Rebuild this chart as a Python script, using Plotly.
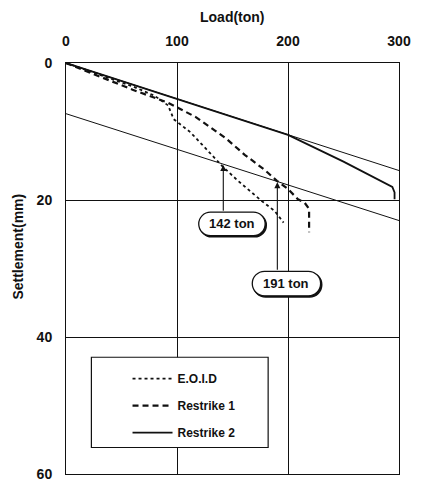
import plotly.graph_objects as go

# ---- data ----
eoid_load = [0, 20, 40, 60, 80, 92, 97, 112, 126, 141, 155, 176, 188, 196]
eoid_settle = [0, 1.1, 2.2, 3.4, 4.8, 6.2, 8.2, 10.1, 12.5, 15.1, 17.2, 20.1, 21.6, 23.3]

r1_load = [0, 30, 60, 92, 117, 144, 161, 179, 190, 200, 209, 215, 219, 219]
r1_settle = [0, 1.9, 3.9, 5.8, 7.9, 11.0, 13.4, 15.6, 17.2, 18.4, 19.9, 20.4, 21.3, 24.7]

r2_load = [0, 50, 100, 150, 200, 250, 294, 296, 296]
r2_settle = [0, 2.6, 5.3, 7.9, 10.5, 14.4, 18.1, 18.9, 19.9]

tangent_load = [0, 300]
upper_tangent = [0, 15.7]
lower_tangent = [7.4, 23.0]

arrow_loads = [141.7, 190.4]
arrow_tips = [14.9, 17.4]
arrow_tails = [21.8, 30.4]
box_labels = ["142 ton", "191 ton"]
box_centers = [(149.5, 23.5), (198.6, 32.2)]
box_sizes = [(68, 24), (70, 25)]

x_ticks = [0, 100, 200, 300]
y_ticks = [0, 20, 40, 60]

# ---- layout geometry ----
W, H = 422, 493
ML, MR, MT, MB = 66, 15, 63, 11
PW = W - ML - MR
PH = H - MT - MB
KX = 300.0 / PW  # load per px
KY = 60.0 / PH   # mm per px


def px_to_paper(px, py):
    return (px - ML) / PW, (H - MB - py) / PH


FONT = "Liberation Sans"

fig = go.Figure()

fig.add_trace(go.Scatter(x=tangent_load, y=upper_tangent, mode="lines",
                         line=dict(color="#111", width=1), showlegend=False, hoverinfo="skip"))
fig.add_trace(go.Scatter(x=tangent_load, y=lower_tangent, mode="lines",
                         line=dict(color="#111", width=1), showlegend=False, hoverinfo="skip"))

fig.add_trace(go.Scatter(x=eoid_load, y=eoid_settle, mode="lines", name="E.O.I.D",
                         legendgroup="a",
                         line=dict(color="#111", width=1.8, dash="dot")))
fig.add_trace(go.Scatter(x=r1_load, y=r1_settle, mode="lines", name="Restrike 1",
                         legendgroup="b",
                         line=dict(color="#111", width=2.2, dash="6px,4px")))
fig.add_trace(go.Scatter(x=r2_load, y=r2_settle, mode="lines", name="Restrike 2",
                         legendgroup="c",
                         line=dict(color="#111", width=1.8)))


def pill(cx, cy, wpx, hpx, ox=0.0, oy=0.0):
    r = hpx / 2.0
    k = 0.5523 * r
    half = wpx / 2.0 - r

    def P(dx, dy):
        return f"{cx + (dx + ox) * KX:.4f},{cy + (dy + oy) * KY:.4f}"

    d = f"M {P(-half, -r)} L {P(half, -r)} "
    d += f"C {P(half + k, -r)} {P(half + r, -k)} {P(half + r, 0)} "
    d += f"C {P(half + r, k)} {P(half + k, r)} {P(half, r)} "
    d += f"L {P(-half, r)} "
    d += f"C {P(-half - k, r)} {P(-half - r, k)} {P(-half - r, 0)} "
    d += f"C {P(-half - r, -k)} {P(-half - k, -r)} {P(-half, -r)} Z"
    return d


shapes = []
lx0, ly0 = px_to_paper(92, 455)
lx1, ly1 = px_to_paper(273, 363)
shapes.append(dict(type="rect", xref="paper", yref="paper",
                   x0=lx0, x1=lx1, y0=ly0, y1=ly1,
                   line=dict(color="#111", width=1.2), fillcolor="white", layer="above"))
for (cx, cy), (bw, bh) in zip(box_centers, box_sizes):
    shapes.append(dict(type="path", xref="x", yref="y", path=pill(cx, cy, bw, bh, 1.2, 1.2),
                       line=dict(color="#111", width=1.4), fillcolor="#111", layer="above"))
    shapes.append(dict(type="path", xref="x", yref="y", path=pill(cx, cy, bw, bh),
                       line=dict(color="#111", width=1.3), fillcolor="white", layer="above"))

annotations = []
for xl, tip, tail in zip(arrow_loads, arrow_tips, arrow_tails):
    annotations.append(dict(x=xl, y=tip, ax=xl, ay=tail, xref="x", yref="y",
                            axref="x", ayref="y", text="", showarrow=True,
                            arrowhead=2, arrowsize=1.1, arrowwidth=1.1, arrowcolor="#111"))
for lab, (cx, cy) in zip(box_labels, box_centers):
    annotations.append(dict(x=cx, y=cy, xref="x", yref="y", text=lab, showarrow=False,
                            font=dict(family=FONT, size=13, color="#111", weight="bold")))

ytx, yty = px_to_paper(17, 250)
annotations.append(dict(x=ytx, y=yty, xref="paper", yref="paper",
                        text="Settlement(mm)", textangle=-90, showarrow=False,
                        xanchor="center", yanchor="middle",
                        font=dict(family=FONT, size=14, color="#111", weight="bold")))
xtx, xty = px_to_paper(ML + PW / 2, 16)
annotations.append(dict(x=xtx, y=xty, xref="paper", yref="paper",
                        text="Load(ton)", showarrow=False, xanchor="center", yanchor="middle",
                        font=dict(family=FONT, size=14, color="#111", weight="bold")))

legx, legy = px_to_paper(129, 370)
fig.update_layout(
    width=W, height=H,
    margin=dict(l=ML, r=MR, t=MT, b=MB),
    paper_bgcolor="white", plot_bgcolor="white",
    shapes=shapes, annotations=annotations,
    legend=dict(x=legx, y=legy, xanchor="left", yanchor="top",
                bgcolor="rgba(0,0,0,0)", borderwidth=0,
                font=dict(family=FONT, size=12, color="#111", weight="bold"),
                tracegroupgap=8, itemwidth=40),
)
fig.update_xaxes(range=[0, 300], side="top", tickvals=x_ticks, ticktext=[str(v) for v in x_ticks],
                 showgrid=True, gridcolor="#111", gridwidth=1, zeroline=False,
                 showline=True, linecolor="#111", linewidth=1, mirror=True, ticks="",
                 ticklabelstandoff=10,
                 tickfont=dict(family=FONT, size=14, color="#111", weight="bold"))
fig.update_yaxes(range=[60, 0], tickvals=y_ticks, ticktext=[str(v) for v in y_ticks],
                 showgrid=True, gridcolor="#111", gridwidth=1, zeroline=False,
                 showline=True, linecolor="#111", linewidth=1, mirror=True, ticks="",
                 ticklabelstandoff=10,
                 tickfont=dict(family=FONT, size=14, color="#111", weight="bold"))

fig.write_html("out.html")
